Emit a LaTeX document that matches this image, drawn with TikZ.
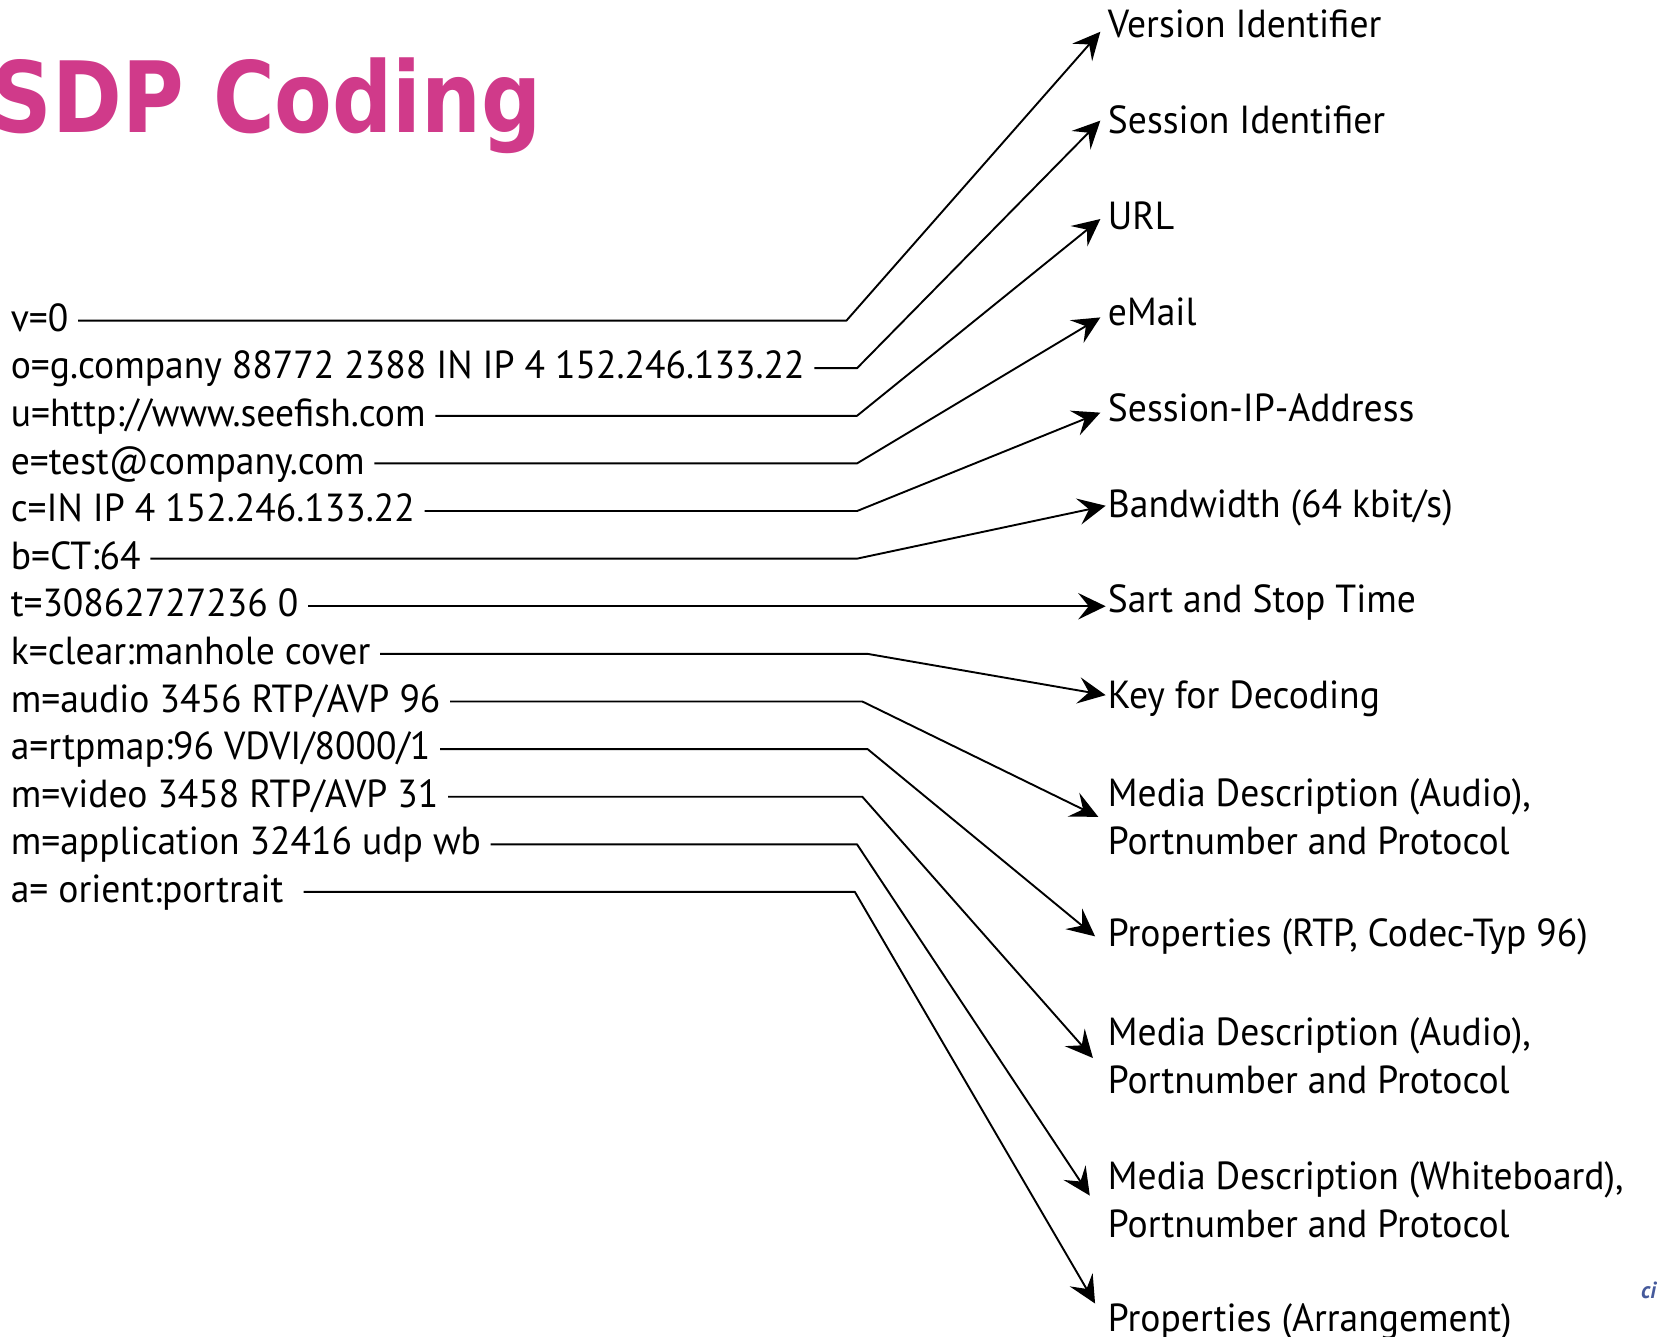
\documentclass[tikz,border=0pt]{standalone}
\usepackage{graphicx}
\usepackage{fontspec}
\setmainfont{PT Sans}[FakeStretch=0.96]
\newfontfamily\titlefont{DejaVu Sans}
\usetikzlibrary{arrows.meta}
\definecolor{titlecol}{RGB}{208,58,138}
\definecolor{wmcol}{RGB}{70,90,155}
\begin{document}
\begin{tikzpicture}[x=1pt,y=-1pt,
  code/.style={anchor=base west, inner xsep=9pt, inner ysep=0pt, text height=30pt, text depth=10pt, font=\fontsize{37}{45}\selectfont},
  desc/.style={anchor=west, inner sep=0pt, text height=27pt, text depth=1pt, font=\fontsize{37}{45}\selectfont},
  desctwo/.style={anchor=west, inner sep=0pt, align=left, font=\fontsize{37}{45}\selectfont},
  conn/.style={line width=1.8pt, line join=round},
  arr/.style={conn, -{Stealth[length=26pt, width=25pt, inset=10pt]}}]
\useasboundingbox (0,0) rectangle (1568,1263);

% title
\node[anchor=base west, inner sep=0pt, text=titlecol, font=\titlefont\bfseries\fontsize{93}{100}\selectfont] (title) at (-8,125) {\scalebox{0.855}[1]{SDP Coding}};

% left code lines
\node[code] (l1) at (1,313) {v=0};
\node[code] (l2) at (1,358) {o=g.company 88772 2388 IN IP 4 152.246.133.22};
\node[code] (l3) at (1,403) {u=http://www.seefish.com};
\node[code] (l4) at (1,448) {e=test@company.com};
\node[code] (l5) at (1,493) {c=IN IP 4 152.246.133.22};
\node[code] (l6) at (1,538) {b=CT:64};
\node[code] (l7) at (1,583) {t=30862727236 0};
\node[code] (l8) at (1,628) {k=clear:manhole cover};
\node[code] (l9) at (1,673) {m=audio 3456 RTP/AVP 96};
\node[code] (l10) at (1,718) {a=rtpmap:96 VDVI/8000/1};
\node[code] (l11) at (1,763) {m=video 3458 RTP/AVP 31};
\node[code] (l12) at (1,808) {m=application 32416 udp wb};
\node[code] (l13) at (1,853) {a= orient:portrait\hspace*{10pt}};

% right descriptions
\node[desc] (r1) at (1047,22) {Version Identifier};
\node[desc] (r2) at (1047,113) {Session Identifier};
\node[desc] (r3) at (1047,204) {URL};
\node[desc] (r4) at (1047,295) {eMail};
\node[desc] (r5) at (1047,385) {Session-IP-Address};
\node[desc] (r6) at (1047,476) {Bandwidth (64 kbit/s)};
\node[desc] (r7) at (1047,566) {Sart and Stop Time};
\node[desc] (r8) at (1047,657) {Key for Decoding};
\node[desctwo] (r9) at (1047,772) {Media Description (Audio),\\Portnumber and Protocol};
\node[desc] (r10) at (1047,882) {Properties (RTP, Codec-Typ 96)};
\node[desctwo] (r11) at (1047,998) {Media Description (Audio),\\Portnumber and Protocol};
\node[desctwo] (r12) at (1047,1134) {Media Description (Whiteboard),\\Portnumber and Protocol};
\node[desc] (r13) at (1047,1245) {Properties (Arrangement)};

% watermark fragment
\node[anchor=base west, inner sep=0pt, text=wmcol, font=\itshape\bfseries\fontsize{22}{24}\selectfont] (wm) at (1551,1227) {ci};

% bend columns
\coordinate (b800) at (800,0);
\coordinate (b808) at (808,0);
\coordinate (b810) at (810,0);
\coordinate (b815) at (815,0);
\coordinate (b820) at (820,0);

% connectors
\draw[arr] (l1.east) -- (l1.east -| b800) -- ([shift={(-7,8)}]r1.west);
\draw[arr] (l2.east) -- (l2.east -| b810) -- ([shift={(-7,1)}]r2.west);
\draw[arr] (l3.east) -- (l3.east -| b810) -- ([shift={(-7,3)}]r3.west);
\draw[arr] (l4.east) -- (l4.east -| b810) -- ([shift={(-7,5)}]r4.west);
\draw[arr] (l5.east) -- (l5.east -| b810) -- ([shift={(-7,5)}]r5.west);
\draw[arr] (l6.east) -- (l6.east -| b810) -- ([shift={(-2,2)}]r6.west);
\draw[arr] (l7.east) -- ([xshift=-2pt]l7.east -| r7.west);
\draw[arr] (l8.east) -- (l8.east -| b820) -- ([shift={(-2,0)}]r8.west);
\draw[arr] (l9.east) -- (l9.east -| b815) -- ([shift={(-9,0)}]r9.west);
\draw[arr] (l10.east) -- (l10.east -| b820) -- ([shift={(-12,3)}]r10.west);
\draw[arr] (l11.east) -- (l11.east -| b815) -- ([shift={(-14,2)}]r11.west);
\draw[arr] (l12.east) -- (l12.east -| b810) -- ([shift={(-17,-4)}]r12.west);
\draw[arr] (l13.east) -- (l13.east -| b808) -- ([shift={(-12,-13)}]r13.west);
\end{tikzpicture}
\end{document}
